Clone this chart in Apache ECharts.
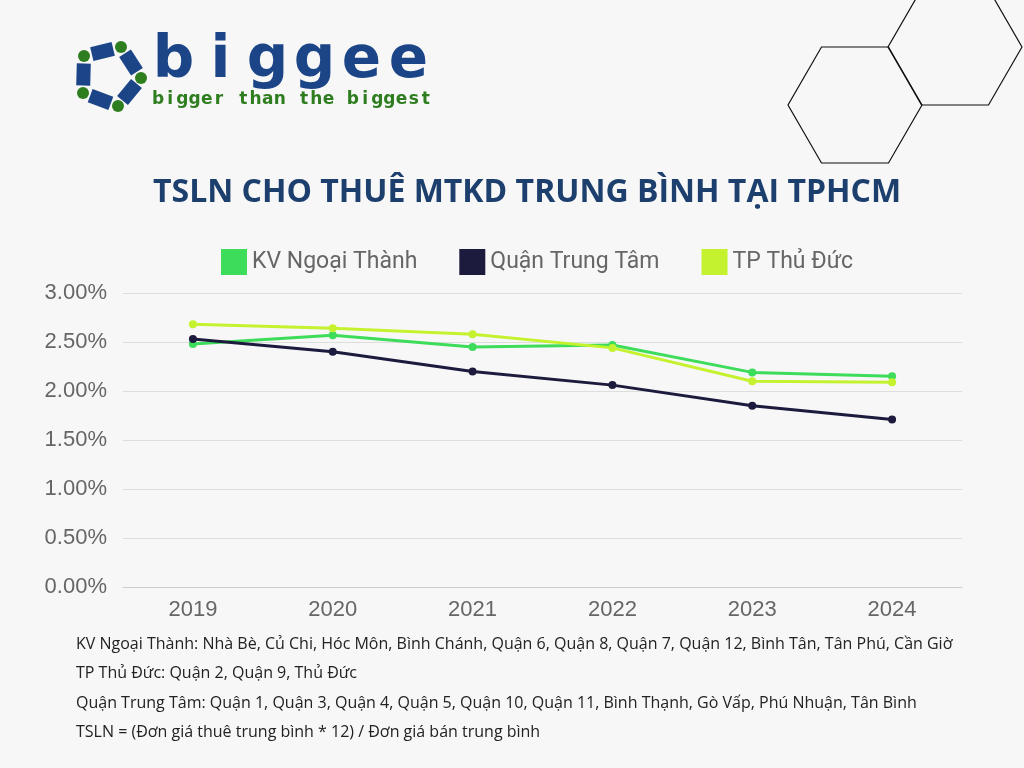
<!DOCTYPE html>
<html><head><meta charset="utf-8">
<script src="https://cdn.jsdelivr.net/npm/echarts@6/dist/echarts.min.js"></script>
<style>html,body{margin:0;padding:0;background:#f7f7f7}#c{width:1024px;height:768px}</style>
</head><body><div id="c"></div>
<script>
const years = ['2019', '2020', '2021', '2022', '2023', '2024'];
const ngoaiThanh = [2.48, 2.57, 2.45, 2.47, 2.19, 2.15];
const trungTam = [2.53, 2.40, 2.20, 2.06, 1.85, 1.71];
const thuDuc = [2.68, 2.64, 2.58, 2.44, 2.10, 2.09];
const notes = [
  'KV Ngoại Thành: Nhà Bè, Củ Chi, Hóc Môn, Bình Chánh, Quận 6, Quận 8, Quận 7, Quận 12, Bình Tân, Tân Phú, Cần Giờ',
  'TP Thủ Đức: Quận 2, Quận 9, Thủ Đức',
  'Quận Trung Tâm: Quận 1, Quận 3, Quận 4, Quận 5, Quận 10, Quận 11, Bình Thạnh, Gò Vấp, Phú Nhuận, Tân Bình',
  'TSLN = (Đơn giá thuê trung bình * 12) / Đơn giá bán trung bình'
];

const chart = echarts.init(document.getElementById('c'));

// logo pieces
const pent = [[84, 56], [121, 47], [141, 78], [118, 106], [83, 93]];
const logo = [];
pent.forEach((p, i) => {
  const q = pent[(i + 1) % 5];
  const mx = (p[0] + q[0]) / 2, my = (p[1] + q[1]) / 2;
  const ang = Math.atan2(q[1] - p[1], q[0] - p[0]);
  logo.push({
    type: 'rect', x: mx, y: my, rotation: -ang,
    shape: { x: -11, y: -7, width: 22, height: 14 },
    style: { fill: '#1c4587' }
  });
});
pent.forEach(p => logo.push({ type: 'circle', shape: { cx: p[0], cy: p[1], r: 6 }, style: { fill: '#2e7d1f' } }));

// spaced-out lettering, one glyph at a time
function spaced(str, x0, x1, y, font, fill) {
  const step = (x1 - x0) / str.length;
  return str.split('').map((ch, i) => ({
    type: 'text', x: x0 + step * (i + 0.5), y,
    style: { text: ch, fill, font, align: 'center', verticalAlign: 'middle' }
  }));
}

function hex(cx, cy, r) {
  const pts = [];
  for (let k = 0; k < 6; k++) {
    const a = Math.PI / 3 * k;
    pts.push([cx + r * Math.cos(a), cy + r * Math.sin(a)]);
  }
  return { type: 'polygon', shape: { points: pts }, style: { fill: 'none', stroke: '#111', lineWidth: 1.2 } };
}

const graphics = logo
  .concat(spaced('biggee', 150, 432, 62, 'bold 58px "DejaVu Sans"', '#1c4587'))
  .concat(spaced('bigger than the biggest', 152, 432, 100, 'bold 17px "DejaVu Sans"', '#2e7d1f'))
  .concat([hex(855, 105, 67), hex(955, 47, 67)]);
notes.forEach((t, i) => graphics.push({
  type: 'text', left: 76, top: 636 + i * 29.5,
  style: { text: t, fill: '#222', font: '16px "Open Sans"' }
}));

const mk = (name, data, color) => ({
  name, type: 'line', data, color,
  symbol: 'circle', symbolSize: 8,
  lineStyle: { width: 3, color }, itemStyle: { color }
});

chart.setOption({
  backgroundColor: '#f7f7f7',
  title: {
    text: 'TSLN CHO THUÊ MTKD TRUNG BÌNH TẠI TPHCM', left: 148, top: 172,
    textStyle: { fontFamily: 'Open Sans', fontWeight: 'bold', fontSize: 32, color: '#1c3f6e' }
  },
  legend: {
    top: 244, left: 216, itemGap: 42, itemWidth: 26, itemHeight: 26, icon: 'rect',
    textStyle: { fontSize: 23, color: '#666', fontFamily: 'Roboto' },
    data: ['KV Ngoại Thành', 'Quận Trung Tâm', 'TP Thủ Đức']
  },
  grid: { left: 123, right: 62, top: 293, bottom: 181 },
  xAxis: {
    type: 'category', data: years,
    axisLine: { lineStyle: { color: '#ccc' } }, axisTick: { show: false },
    axisLabel: { fontSize: 22, color: '#666', margin: 12 }
  },
  yAxis: {
    type: 'value', min: 0, max: 3, interval: 0.5,
    axisLabel: { fontSize: 22, color: '#666', margin: 16, formatter: v => v.toFixed(2) + '%' },
    splitLine: { lineStyle: { color: '#ddd' } }
  },
  series: [
    mk('KV Ngoại Thành', ngoaiThanh, '#3ddc5a'),
    mk('Quận Trung Tâm', trungTam, '#1d1b3d'),
    mk('TP Thủ Đức', thuDuc, '#c5f22f')
  ],
  graphic: graphics
});
</script></body></html>
